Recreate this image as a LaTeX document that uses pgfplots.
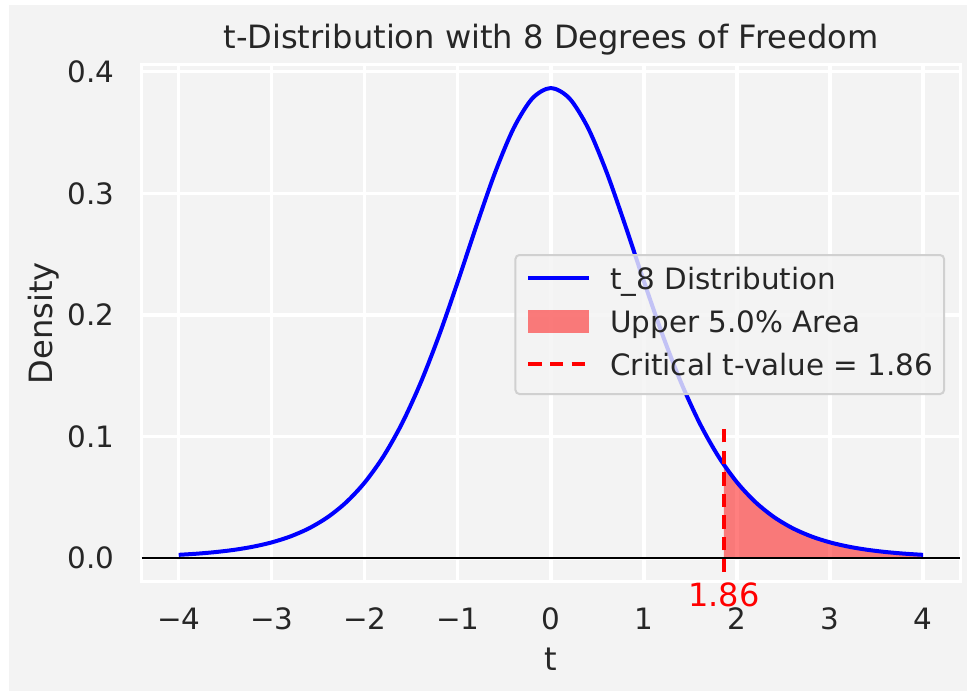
\documentclass[border=0pt]{standalone}
\usepackage{fontspec}
\setmainfont{DejaVu Sans}
\usepackage{pgfplots}
\pgfplotsset{compat=1.18}
\definecolor{bgg}{RGB}{243,243,243}
\definecolor{txt}{RGB}{38,38,38}
\definecolor{legb}{RGB}{208,208,208}
\begin{document}
\begin{tikzpicture}
\fill[white] (0,0) rectangle (483.5pt,-345.5pt);
\fill[bgg] (4.5pt,-2.5pt) rectangle (483.5pt,-345.5pt);
\begin{axis}[
  at={(70.75pt,-290.85pt)}, anchor=south west,
  scale only axis, width=409.4pt, height=258.6pt,
  xmin=-4.4, xmax=4.4, ymin=-0.01934, ymax=0.40604,
  clip=false,
  axis line style={white, line width=1.6pt},
  grid=major, major grid style={white, line width=1.6pt},
  major tick length=0pt,
  xtick={-4,-3,-2,-1,0,1,2,3,4}, xticklabels={−4,−3,−2,−1,0,1,2,3,4},
  ytick={0,0.1,0.2,0.3,0.4}, yticklabels={0.0,0.1,0.2,0.3,0.4},
  tick label style={font=\fontsize{14.7}{17}\selectfont, text=txt, inner sep=0pt},
  xticklabel style={anchor=base, yshift=-24pt},
  yticklabel style={anchor=east, xshift=-13.5pt},
  title={t-Distribution with 8 Degrees of Freedom},
  xlabel={t}, ylabel={Density},
  every axis title/.style={at={(axis description cs:0.5,1.0313)}, anchor=base, font=\fontsize{16.05}{19}\selectfont, text=txt},
  every axis x label/.style={at={(axis description cs:0.5,-0.1707)}, anchor=base, font=\fontsize{16.05}{19}\selectfont, text=txt},
  every axis y label/.style={at={(axis description cs:-0.1081,0.5)}, anchor=base, rotate=90, font=\fontsize{16.05}{19}\selectfont, text=txt},
  legend cell align=left,
  legend style={at={(0.9814,0.6336)}, anchor=north east,
    font=\fontsize{14.7}{17}\selectfont, text=txt,
    fill=bgg, fill opacity=0.8, text opacity=1, draw=legb, line width=1pt,
    rounded corners=2pt, inner xsep=5.5pt, inner ysep=6pt, row sep=7pt,
    nodes={inner sep=0pt, text height=11pt, text depth=3.5pt},
    /tikz/every odd column/.append style={column sep=9.5pt}},
]
\addplot[fill=red, fill opacity=0.5, draw=none, smooth, forget plot] coordinates {
(1.86,0.07674) (2.0,0.06237) (2.2,0.04599) (2.4,0.03369) (2.6,0.02457) (2.8,0.01788)
(3.0,0.01301) (3.2,0.00948) (3.4,0.00692) (3.6,0.00507) (3.8,0.00373) (4.0,0.00276)
} \closedcycle;
\addplot[blue, line width=2pt, smooth, forget plot] coordinates {
(-4.0,0.00276) (-3.8,0.00373) (-3.6,0.00507) (-3.4,0.00692) (-3.2,0.00948) (-3.0,0.01301)
(-2.8,0.01788) (-2.6,0.02457) (-2.4,0.03369) (-2.2,0.04599) (-2.0,0.06237) (-1.8,0.08372)
(-1.6,0.11086) (-1.4,0.14425) (-1.2,0.18361) (-1.0,0.22760) (-0.8,0.27350) (-0.6,0.31720)
(-0.4,0.35372) (-0.2,0.37811) (0.0,0.38669) (0.2,0.37811) (0.4,0.35372) (0.6,0.31720)
(0.8,0.27350) (1.0,0.22760) (1.2,0.18361) (1.4,0.14425) (1.6,0.11086) (1.8,0.08372)
(2.0,0.06237) (2.2,0.04599) (2.4,0.03369) (2.6,0.02457) (2.8,0.01788) (3.0,0.01301)
(3.2,0.00948) (3.4,0.00692) (3.6,0.00507) (3.8,0.00373) (4.0,0.00276)
};
\addplot[red, line width=2pt, dash pattern=on 6.65pt off 4.15pt, forget plot] coordinates {(1.86,-0.0113) (1.86,0.1062)};
\addplot[black, line width=1pt, forget plot] coordinates {(-4.4,0) (4.4,0)};
\node[red, anchor=base, inner sep=0pt, font=\fontsize{16}{19}\selectfont] at (axis cs:1.86,-0.0398) {1.86};
\addlegendimage{legend image code/.code={\draw[blue, line width=2pt, sharp corners] (0pt,1.6pt) -- (30.5pt,1.6pt);}}
\addlegendentry{t\_8 Distribution}
\addlegendimage{legend image code/.code={\path[draw=none, fill=red, fill opacity=0.5, sharp corners] (0pt,-4.05pt) rectangle (30.5pt,7.25pt);}}
\addlegendentry{Upper 5.0\% Area}
\addlegendimage{legend image code/.code={\draw[red, line width=2pt, dash pattern=on 6.65pt off 4.15pt, sharp corners] (0pt,1.6pt) -- (30.5pt,1.6pt);}}
\addlegendentry{Critical t-value = 1.86}
\end{axis}
\pgfresetboundingbox
\path[use as bounding box] (0,0) rectangle (483.5pt,-345.5pt);
\end{tikzpicture}
\end{document}
